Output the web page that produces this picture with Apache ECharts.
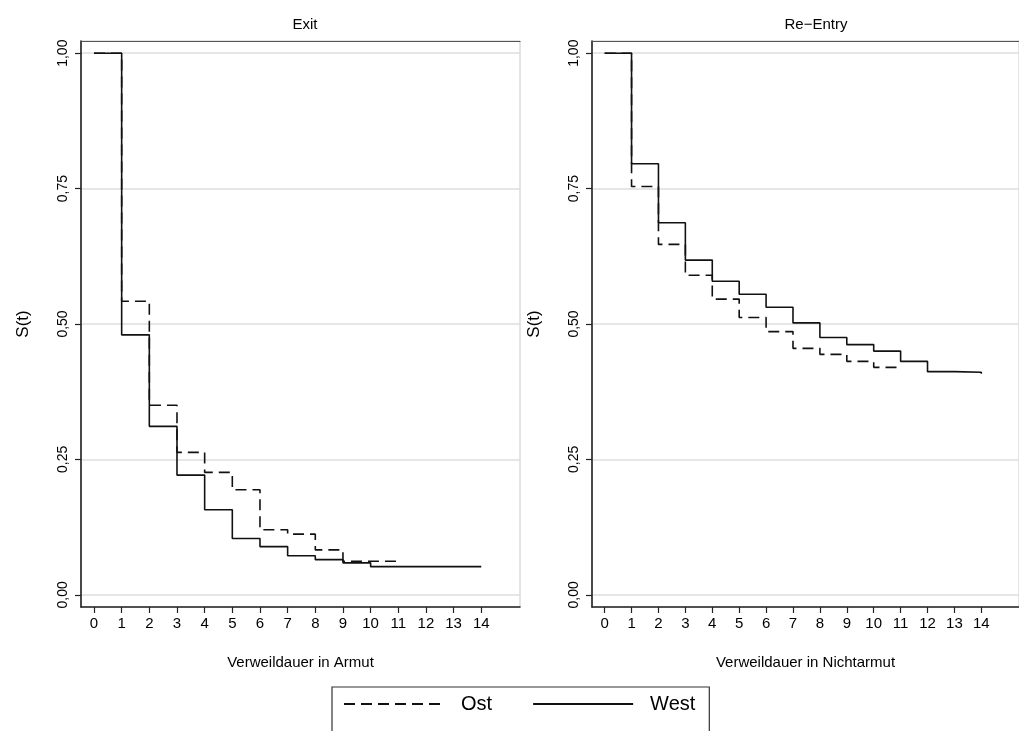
<!DOCTYPE html>
<html>
<head>
<meta charset="utf-8">
<script src="https://cdn.jsdelivr.net/npm/echarts@6/dist/echarts.min.js"></script>
<style>html,body{margin:0;padding:0;background:#fff}#c{width:1019px;height:731px}</style>
</head>
<body>
<div id="c"></div>
<script>
// Kaplan-Meier survivor estimates S(t) at t = 0,1,2,...
const panelTitles = ['Exit', 'Re\u2212Entry'];
const xTitles = ['Verweildauer in Armut', 'Verweildauer in Nichtarmut'];
const seriesNames = ['Ost', 'West'];
const exitOst  = [1.000, 0.542, 0.350, 0.263, 0.226, 0.194, 0.120, 0.112, 0.083, 0.062, 0.062, 0.062];
const exitWest = [1.000, 0.480, 0.311, 0.221, 0.157, 0.104, 0.089, 0.072, 0.065, 0.059, 0.052, 0.052, 0.052, 0.052, 0.052];
const reOst    = [1.000, 0.754, 0.647, 0.590, 0.546, 0.512, 0.486, 0.455, 0.444, 0.431, 0.420, 0.420];
const reWest   = [1.000, 0.796, 0.687, 0.618, 0.579, 0.555, 0.531, 0.502, 0.475, 0.462, 0.450, 0.431, 0.412, 0.411, 0.408];
const xTicks = [0,1,2,3,4,5,6,7,8,9,10,11,12,13,14];
const yTicks = [0, 0.25, 0.5, 0.75, 1];
const yTickLabels = ['0,00', '0,25', '0,50', '0,75', '1,00'];

const FONT = 'Liberation Sans, Arial, Helvetica, sans-serif';
const toPts = arr => arr.map((v, i) => [i, v]);

const grids = [
  {left: 81, top: 41, width: 439, height: 566},
  {left: 592, top: 41, width: 439, height: 566}
];

function bottomX(gi) {
  return {
    type: 'value', gridIndex: gi, position: 'bottom', min: -0.47, max: 15.4,
    name: xTitles[gi], nameLocation: 'middle', nameGap: 48,
    nameTextStyle: {color: '#000', fontSize: 15, fontFamily: FONT},
    axisLine: {show: true, onZero: false, lineStyle: {color: '#222', width: 1.6}},
    axisTick: {show: true, length: 6, customValues: xTicks, lineStyle: {color: '#222', width: 1.2}},
    axisLabel: {show: true, customValues: xTicks, margin: 9, color: '#000', fontSize: 15, fontFamily: FONT},
    splitLine: {show: false}
  };
}
function topX(gi) {
  return {
    type: 'value', gridIndex: gi, position: 'top', min: -0.47, max: 15.4,
    axisLine: {show: true, onZero: false, lineStyle: {color: '#555', width: 1.2}},
    axisTick: {show: false}, axisLabel: {show: false}, splitLine: {show: false}
  };
}
function leftY(gi) {
  return {
    type: 'value', gridIndex: gi, min: -0.0225, max: 1.0225,
    name: 'S(t)', nameLocation: 'middle', nameGap: 49, nameRotate: 90,
    nameTextStyle: {color: '#000', fontSize: 17, fontFamily: FONT},
    axisLine: {show: true, onZero: false, lineStyle: {color: '#222', width: 1.6}},
    axisTick: {show: true, length: 6, customValues: yTicks, lineStyle: {color: '#222', width: 1.2}},
    axisLabel: {
      show: true, customValues: yTicks, rotate: 90, margin: 11, color: '#000', fontSize: 14, fontFamily: FONT,
      formatter: v => { const i = yTicks.findIndex(t => Math.abs(t - v) < 1e-6); return i >= 0 ? yTickLabels[i] : ''; }
    },
    splitLine: {show: true, lineStyle: {color: '#dedede', width: 1.5}}
  };
}

function line(name, data, xi, yi, dashed) {
  return {
    name, type: 'line', step: 'end', xAxisIndex: xi, yAxisIndex: yi,
    data: toPts(data), symbol: 'none', showSymbol: false, silent: true,
    lineStyle: {color: '#111', width: 1.6, type: dashed ? [11, 6] : 'solid'},
    itemStyle: {color: '#111'}, animation: false
  };
}

const chart = echarts.init(document.getElementById('c'), null, {renderer: 'canvas'});
chart.setOption({
  animation: false,
  backgroundColor: '#fff',
  title: [
    {text: panelTitles[0], left: 300, top: 12, textAlign: 'center', textStyle: {fontSize: 15, fontWeight: 'normal', color: '#000', fontFamily: FONT}},
    {text: panelTitles[1], left: 811, top: 12, textAlign: 'center', textStyle: {fontSize: 15, fontWeight: 'normal', color: '#000', fontFamily: FONT}}
  ],
  legend: {
    data: seriesNames, left: 332, top: 687, orient: 'horizontal',
    itemWidth: 100, itemHeight: 14, itemGap: 40,
    padding: [7, 14, 40, 11],
    borderColor: '#333', borderWidth: 1.2,
    itemStyle: {opacity: 0},
    textStyle: {color: '#000', fontSize: 20, fontFamily: FONT, padding: [0, 0, 0, 12]}
  },
  grid: grids.map(g => Object.assign({show: true, borderColor: '#c8c8c8', borderWidth: 1, containLabel: false}, g)),
  xAxis: [bottomX(0), bottomX(1), topX(0), topX(1)],
  yAxis: [leftY(0), leftY(1)],
  series: [
    line('Ost', exitOst, 0, 0, true),
    line('West', exitWest, 0, 0, false),
    line('Ost', reOst, 1, 1, true),
    line('West', reWest, 1, 1, false)
  ]
});
</script>
</body>
</html>
